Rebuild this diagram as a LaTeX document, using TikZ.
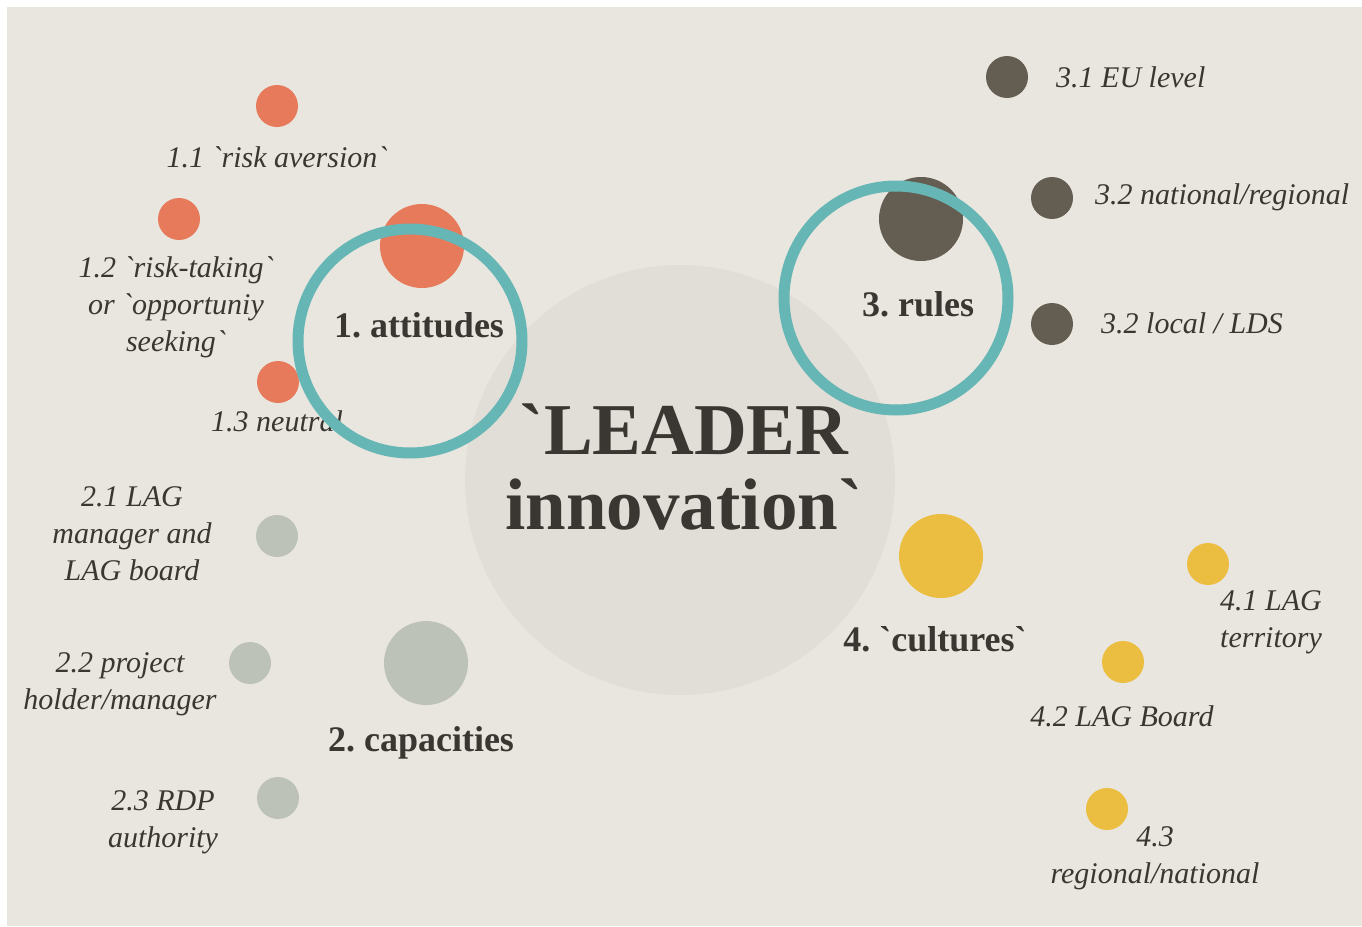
\documentclass[tikz,border=0pt]{standalone}
\usepackage{fontspec}
\newfontfamily\base{Liberation Serif}
\definecolor{bg}{HTML}{E9E6DF}
\definecolor{hub}{HTML}{E1DED8}
\definecolor{orng}{HTML}{E67A5A}
\definecolor{sage}{HTML}{BDC2B9}
\definecolor{umber}{HTML}{645D51}
\definecolor{gold}{HTML}{EBBD40}
\definecolor{teal}{HTML}{66B6B5}
\definecolor{ink}{HTML}{3A3631}
\begin{document}
\begin{tikzpicture}[x=1pt,y=-1pt,
  dot/.style={circle,inner sep=0pt,minimum size=42pt,draw=none},
  bigdot/.style={circle,inner sep=0pt,minimum size=84pt,draw=none},
  lab/.style={text=ink,font=\base\itshape\frenchspacing\fontsize{30}{37}\selectfont,align=center,inner sep=0pt},
  cat/.style={text=ink,font=\base\bfseries\frenchspacing\fontsize{36}{40}\selectfont,inner sep=0pt},
  ring/.style={circle,draw=teal,line width=11pt,inner sep=0pt,minimum size=224pt}]
\useasboundingbox (0,0) rectangle (1362,926);
\fill[white] (0,0) rectangle (1362,926);
\fill[bg] (7,7) rectangle (1362,926);
% hub
\node[circle,fill=hub,inner sep=0pt,minimum size=430pt] (hub) at (680,480) {};
% attitudes
\node[dot,fill=orng] (d11) at (277,106) {};
\node[dot,fill=orng] (d12) at (179,219) {};
\node[dot,fill=orng] (d13) at (278,382) {};
\node[bigdot,fill=orng] (d1) at (422,246) {};
% capacities
\node[dot,fill=sage] (d21) at (277,536) {};
\node[dot,fill=sage] (d22) at (250,663) {};
\node[dot,fill=sage] (d23) at (278,798) {};
\node[bigdot,fill=sage] (d2) at (426,663) {};
% rules
\node[dot,fill=umber] (d31) at (1007,77) {};
\node[dot,fill=umber] (d32) at (1052,198) {};
\node[dot,fill=umber] (d33) at (1052,324) {};
\node[bigdot,fill=umber] (d3) at (921,219) {};
% cultures
\node[dot,fill=gold] (d41) at (1208,564) {};
\node[dot,fill=gold] (d42) at (1123,662) {};
\node[dot,fill=gold] (d43) at (1107,809) {};
\node[bigdot,fill=gold] (d4) at (941,556) {};
% labels
\node[lab] (l11) at (277,157) {1.1 `risk aversion`};
\node[lab] (l12) at (176,307) {1.2 `risk-taking`\\ or `opportuniy\\ seeking`};
\node[lab,anchor=west] (l13) at (211,421) {1.3 neutral};
\node[lab] (l21) at (132,534) {2.1 LAG\\ manager and\\ LAG board};
\node[lab] (l22) at (120,684) {2.2 project\\ holder/manager};
\node[lab] (l23) at (163,822) {2.3 RDP\\ authority};
\node[lab,anchor=west] (l31) at (1056,77) {3.1 EU level};
\node[lab,anchor=west] (l32) at (1095,197) {3.2 national/regional};
\node[lab,anchor=west] (l33) at (1101,323) {3.2 local / LDS};
\node[lab] (l41) at (1271,622) {4.1 LAG\\ territory};
\node[lab] (l42) at (1122,716) {4.2 LAG Board};
\node[lab] (l43) at (1155,858) {4.3\\ regional/national};
% categories
\node[cat] (c1) at (419,325) {1. attitudes};
\node[cat] (c2) at (421,743) {2. capacities};
\node[cat] (c3) at (918,304) {3. rules};
\node[cat] (c4) at (935,639) {4. `cultures`};
\node[text=ink,font=\base\bfseries\fontsize{73}{75}\selectfont,align=center,inner sep=0pt] (title) at (684,467) {`LEADER\\ innovation`};
% rings
\node[ring] (r1) at (410,341) {};
\node[ring] (r3) at (896,298) {};
\end{tikzpicture}
\end{document}
